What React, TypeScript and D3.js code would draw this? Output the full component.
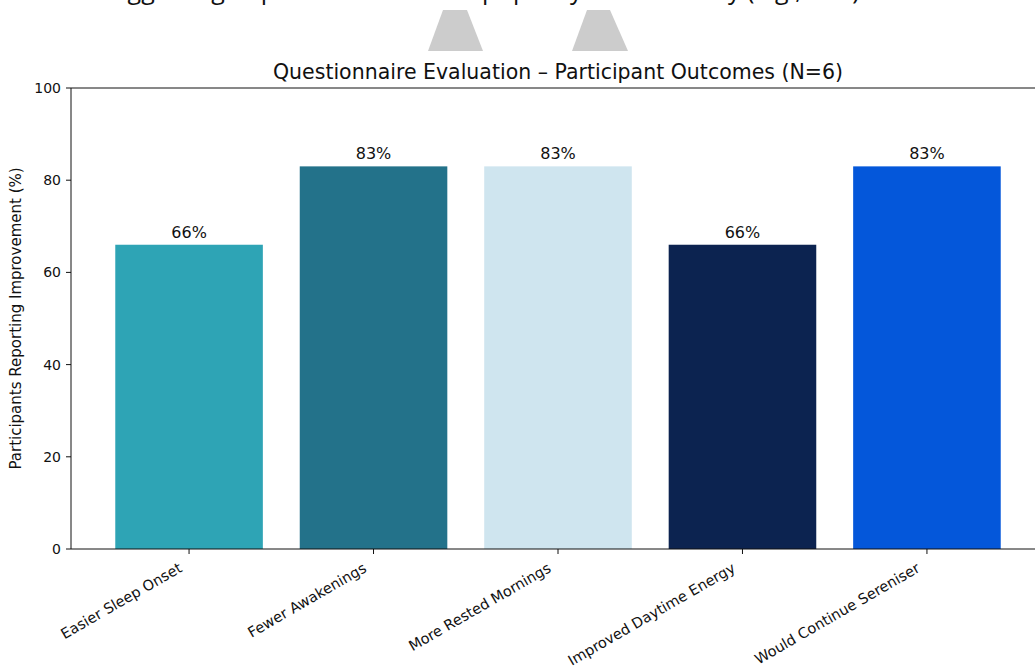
import React from "react";
import * as d3 from "d3";

// Questionnaire outcomes: share of participants reporting each improvement
const categories = [
  "Easier Sleep Onset",
  "Fewer Awakenings",
  "More Rested Mornings",
  "Improved Daytime Energy",
  "Would Continue Sereniser",
];
const percentages = [66, 83, 83, 66, 83];
const barColors = ["#2ea4b5", "#23728a", "#cfe5ef", "#0c2350", "#0457da"];
const yTicks = [0, 20, 40, 60, 80, 100];

const W = 1035;
const H = 666;
const left = 71;
const right = 1045;
const top = 88;
const bottom = 549;

const FONT = "DejaVu Sans, sans-serif";

export default function App() {
  // matplotlib-style categorical axis: bars at integer positions, 0.8 wide
  const n = categories.length;
  const pad = (n - 1 + 0.8) * 0.05;
  const x = d3
    .scaleLinear()
    .domain([-0.4 - pad, n - 1 + 0.4 + pad])
    .range([left, right]);
  const y = d3.scaleLinear().domain([0, 100]).range([bottom, top]);
  const barW = x(0.8) - x(0);

  return (
    <svg
      width={W}
      height={H}
      style={{ position: "fixed", left: 0, top: 0, background: "#fff" }}
      fontFamily={FONT}
    >
      {/* caption line above the figure, partly outside the frame */}
      <text
        x={10}
        y={-1}
        fontFamily="Open Sans, sans-serif"
        fontSize={25}
        fill="#111"
      >
        Results suggesting improvements in sleep quality and recovery (e.g., less)
      </text>
      {/* grey pointer shapes */}
      <polygon points="443,10 467,10 483,51 428,51" fill="#cccccc" />
      <polygon points="587,10 610,10 628,51 572,51" fill="#cccccc" />

      <text
        x={(left + right) / 2}
        y={79}
        textAnchor="middle"
        fontSize={20.5}
        fill="#111"
      >
        Questionnaire Evaluation – Participant Outcomes (N=6)
      </text>

      {percentages.map((v, i) => (
        <g key={categories[i]}>
          <rect
            x={x(i - 0.4)}
            y={y(v)}
            width={barW}
            height={y(0) - y(v)}
            fill={barColors[i]}
          />
          <text
            x={x(i)}
            y={y(v) - 7}
            textAnchor="middle"
            fontSize={16}
            fill="#111"
          >
            {v}%
          </text>
        </g>
      ))}

      {/* spines */}
      <line x1={left} x2={left} y1={top} y2={bottom} stroke="#111" strokeWidth={1} />
      <line x1={left} x2={right} y1={top} y2={top} stroke="#111" strokeWidth={1} />
      <line x1={left} x2={right} y1={bottom} y2={bottom} stroke="#111" strokeWidth={1} />
      <line x1={right} x2={right} y1={top} y2={bottom} stroke="#111" strokeWidth={1} />

      {yTicks.map((t) => (
        <g key={t} transform={`translate(${left},${y(t)})`}>
          <line x1={-5} x2={0} stroke="#111" />
          <text x={-10} dy="0.36em" textAnchor="end" fontSize={14} fill="#111">
            {t}
          </text>
        </g>
      ))}

      {categories.map((c, i) => (
        <g key={c} transform={`translate(${x(i)},${bottom})`}>
          <line y1={0} y2={5} stroke="#111" />
          <text
            transform="translate(-6,22) rotate(-30)"
            textAnchor="end"
            fontSize={14.5}
            fill="#111"
          >
            {c}
          </text>
        </g>
      ))}

      <text
        transform={`translate(21,${(top + bottom) / 2}) rotate(-90)`}
        textAnchor="middle"
        fontSize={15}
        fill="#111"
      >
        Participants Reporting Improvement (%)
      </text>
    </svg>
  );
}
